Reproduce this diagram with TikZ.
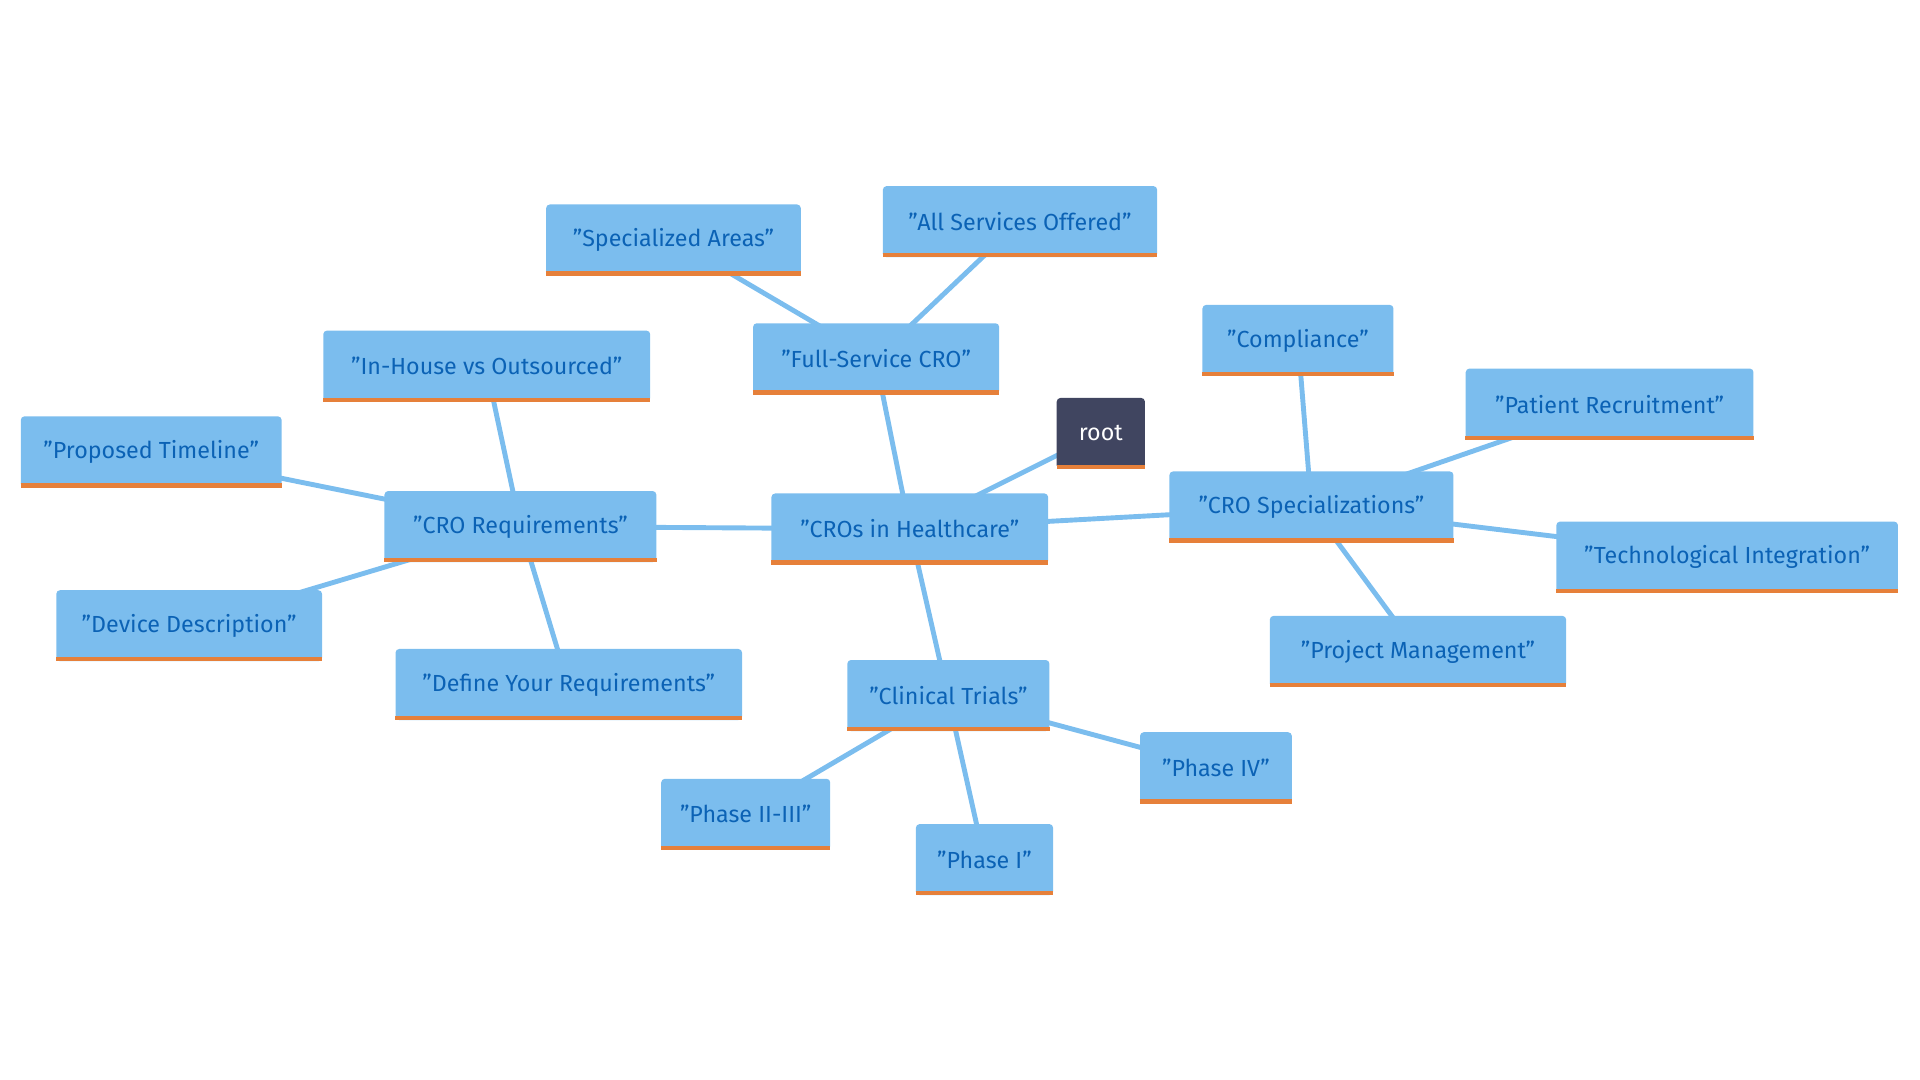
\documentclass[tikz,border=0pt]{standalone}
\usepackage{fontspec}
\setmainfont{Fira Sans}
\definecolor{boxc}{HTML}{7BBDEE}
\definecolor{txtc}{HTML}{0B62B5}
\definecolor{orng}{HTML}{E6803A}
\definecolor{rootc}{HTML}{404560}
\newcommand\mnode[6]{%
  \node[box, minimum width=#4pt-#2pt, minimum height=#5pt-#3pt] (#1) at ({(#2+#4)/2},{(#3+#5)/2}) {#6};
  \draw[orng, line width=3.5pt] ([yshift=1.75pt]#1.south west) -- ([yshift=1.75pt]#1.south east);}
\begin{document}
\begin{tikzpicture}[x=1pt,y=-1pt,
  box/.style={fill=boxc, text=txtc, rounded corners=3pt, inner sep=0pt, font=\fontsize{19}{22}\selectfont},
  link/.style={draw=boxc, line width=4pt}]
\useasboundingbox (0,0) rectangle (1568,882);
\coordinate (c-root) at (899,354);
\coordinate (c-hc) at (743,432);
\coordinate (c-fs) at (715,293);
\coordinate (c-sa) at (550,196);
\coordinate (c-as) at (833,181);
\coordinate (c-sp) at (1071,414);
\coordinate (c-co) at (1060,278);
\coordinate (c-pr) at (1314,330);
\coordinate (c-ti) at (1410,455);
\coordinate (c-pm) at (1158,532);
\coordinate (c-ct) at (774,568);
\coordinate (c-p4) at (993,627);
\coordinate (c-p1) at (804,702);
\coordinate (c-p23) at (609,665);
\coordinate (c-rq) at (425,430);
\coordinate (c-ih) at (397,299);
\coordinate (c-pt) at (123,369);
\coordinate (c-dd) at (154,511);
\coordinate (c-dr) at (464,559);
\foreach \a/\b in {hc/root,hc/fs,fs/sa,fs/as,hc/sp,sp/co,sp/pr,sp/ti,sp/pm,hc/ct,ct/p4,ct/p1,ct/p23,hc/rq,rq/ih,rq/pt,rq/dd,rq/dr}
  \draw[link] (c-\a) -- (c-\b);
\node[box, fill=rootc, text=white, minimum width=72pt, minimum height=58pt] (root) at (899,354) {root};
\draw[orng, line width=3.5pt] ([yshift=1.75pt]root.south west) -- ([yshift=1.75pt]root.south east);
\mnode{hc}{630}{403}{856}{461}{"CROs in Healthcare"}
\mnode{fs}{615}{264}{816}{322}{"Full-Service CRO"}
\mnode{sa}{446}{167}{654}{225}{"Specialized Areas"}
\mnode{as}{721}{152}{945}{210}{"All Services Offered"}
\mnode{sp}{955}{385}{1187}{443}{"CRO Specializations"}
\mnode{co}{982}{249}{1138}{307}{"Compliance"}
\mnode{pr}{1197}{301}{1432}{359}{"Patient Recruitment"}
\mnode{ti}{1271}{426}{1550}{484}{"Technological Integration"}
\mnode{pm}{1037}{503}{1279}{561}{"Project Management"}
\mnode{ct}{692}{539}{857}{597}{"Clinical Trials"}
\mnode{p4}{931}{598}{1055}{656}{"Phase IV"}
\mnode{p1}{748}{673}{860}{731}{"Phase I"}
\mnode{p23}{540}{636}{678}{694}{"Phase II-III"}
\mnode{rq}{314}{401}{536}{459}{"CRO Requirements"}
\mnode{ih}{264}{270}{531}{328}{"In-House vs Outsourced"}
\mnode{pt}{17}{340}{230}{398}{"Proposed Timeline"}
\mnode{dd}{46}{482}{263}{540}{"Device Description"}
\mnode{dr}{323}{530}{606}{588}{"Define Your Requirements"}
\end{tikzpicture}
\end{document}
